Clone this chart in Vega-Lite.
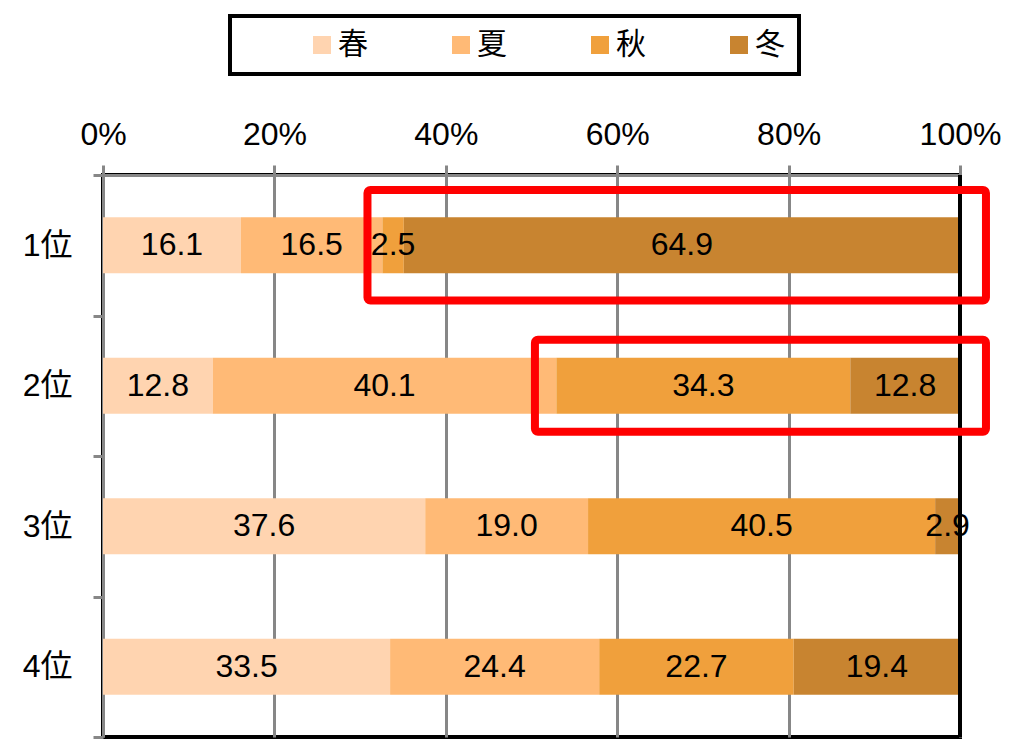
{
  "$schema": "https://vega.github.io/schema/vega-lite/v6.json",
  "width": 857,
  "height": 562,
  "autosize": {"type": "none"},
  "padding": {"left": 103, "top": 175, "right": 50, "bottom": 10},
  "background": "white",
  "view": {"stroke": "black", "strokeWidth": 4},
  "config": {
    "font": "Liberation Sans",
    "axis": {"labelColor": "black", "labelFont": "Liberation Sans, Noto Sans CJK JP"}
  },
  "datasets": {
    "main": [
      {"rank": "1位", "season": "春", "k": 1, "value": 16.1},
      {"rank": "1位", "season": "夏", "k": 2, "value": 16.5},
      {"rank": "1位", "season": "秋", "k": 3, "value": 2.5},
      {"rank": "1位", "season": "冬", "k": 4, "value": 64.9},
      {"rank": "2位", "season": "春", "k": 1, "value": 12.8},
      {"rank": "2位", "season": "夏", "k": 2, "value": 40.1},
      {"rank": "2位", "season": "秋", "k": 3, "value": 34.3},
      {"rank": "2位", "season": "冬", "k": 4, "value": 12.8},
      {"rank": "3位", "season": "春", "k": 1, "value": 37.6},
      {"rank": "3位", "season": "夏", "k": 2, "value": 19.0},
      {"rank": "3位", "season": "秋", "k": 3, "value": 40.5},
      {"rank": "3位", "season": "冬", "k": 4, "value": 2.9},
      {"rank": "4位", "season": "春", "k": 1, "value": 33.5},
      {"rank": "4位", "season": "夏", "k": 2, "value": 24.4},
      {"rank": "4位", "season": "秋", "k": 3, "value": 22.7},
      {"rank": "4位", "season": "冬", "k": 4, "value": 19.4}
    ],
    "highlight": [
      {"rank": "1位", "from": 0.3086, "to": 1.0303},
      {"rank": "2位", "from": 0.504, "to": 1.0303}
    ]
  },
  "layer": [
    {
      "data": {"name": "main"},
      "mark": {"type": "bar", "height": {"band": 0.4}},
      "encoding": {
        "y": {
          "field": "rank",
          "type": "nominal",
          "scale": {"paddingInner": 0, "paddingOuter": 0},
          "axis": {
            "title": null,
            "orient": "left",
            "domainColor": "#878787",
            "domainWidth": 3,
            "tickBand": "extent",
            "tickColor": "#878787",
            "tickWidth": 3,
            "tickSize": 10,
            "labelFontSize": 32,
            "labelPadding": 21,
            "labelFont": "Liberation Sans, Noto Sans CJK JP",
            "grid": false
          }
        },
        "x": {
          "field": "value",
          "type": "quantitative",
          "stack": "normalize",
          "scale": {"domain": [0, 1], "nice": false},
          "axis": {
            "title": null,
            "orient": "top",
            "format": ".0%",
            "values": [0, 0.2, 0.4, 0.6, 0.8, 1],
            "labelFlush": false,
            "grid": true,
            "gridColor": "#878787",
            "gridWidth": 3,
            "domainColor": "#878787",
            "domainWidth": 3,
            "tickColor": "#878787",
            "tickWidth": 3,
            "tickSize": 10,
            "labelFontSize": 32,
            "labelPadding": 14,
            "labelFont": "Liberation Sans"
          }
        },
        "color": {
          "field": "season",
          "type": "nominal",
          "sort": ["春", "夏", "秋", "冬"],
          "scale": {
            "domain": ["春", "夏", "秋", "冬"],
            "range": ["#FFD4B0", "#FFBA76", "#F0A03C", "#C88430"]
          },
          "legend": {
            "orient": "none",
            "legendX": 127,
            "legendY": -159,
            "direction": "horizontal",
            "title": " ",
            "titleOrient": "left",
            "titleFontSize": 1,
            "titlePadding": 63,
            "padding": 14,
            "symbolType": "square",
            "symbolSize": 324,
            "symbolStrokeWidth": 0,
            "symbolOpacity": 1,
            "labelOffset": 1,
            "labelFontSize": 30,
            "labelFont": "Noto Sans CJK JP",
            "labelColor": "black",
            "columnPadding": 78,
            "encode": {
              "legend": {
                "update": {
                  "stroke": {"value": "black"},
                  "strokeWidth": {"value": 4},
                  "fill": {"value": "white"}
                }
              }
            }
          }
        },
        "order": {"field": "k", "type": "quantitative"}
      }
    },
    {
      "data": {"name": "main"},
      "mark": {"type": "text", "font": "Liberation Sans", "fontSize": 32, "color": "black", "baseline": "middle", "align": "center"},
      "encoding": {
        "y": {"field": "rank", "type": "nominal"},
        "x": {"field": "value", "type": "quantitative", "stack": "normalize", "bandPosition": 0.5},
        "detail": {"field": "season", "type": "nominal"},
        "order": {"field": "k", "type": "quantitative"},
        "text": {"field": "value", "type": "quantitative", "format": ".1f"}
      }
    },
    {
      "data": {"name": "main"},
      "mark": {"type": "rule", "color": "black", "strokeWidth": 4},
      "encoding": {"x": {"datum": 1, "type": "quantitative"}}
    },
    {
      "data": {"name": "highlight"},
      "transform": [{"filter": "datum.rank == '1位'"}],
      "mark": {"type": "bar", "filled": false, "stroke": "#FF0000", "strokeWidth": 8, "cornerRadius": 3, "height": {"band": 0.786}},
      "encoding": {
        "y": {"field": "rank", "type": "nominal"},
        "x": {"field": "from", "type": "quantitative"},
        "x2": {"field": "to"}
      }
    },
    {
      "data": {"name": "highlight"},
      "transform": [{"filter": "datum.rank == '2位'"}],
      "mark": {"type": "bar", "filled": false, "stroke": "#FF0000", "strokeWidth": 8, "cornerRadius": 3, "height": {"band": 0.655}},
      "encoding": {
        "y": {"field": "rank", "type": "nominal"},
        "x": {"field": "from", "type": "quantitative"},
        "x2": {"field": "to"}
      }
    }
  ]
}
